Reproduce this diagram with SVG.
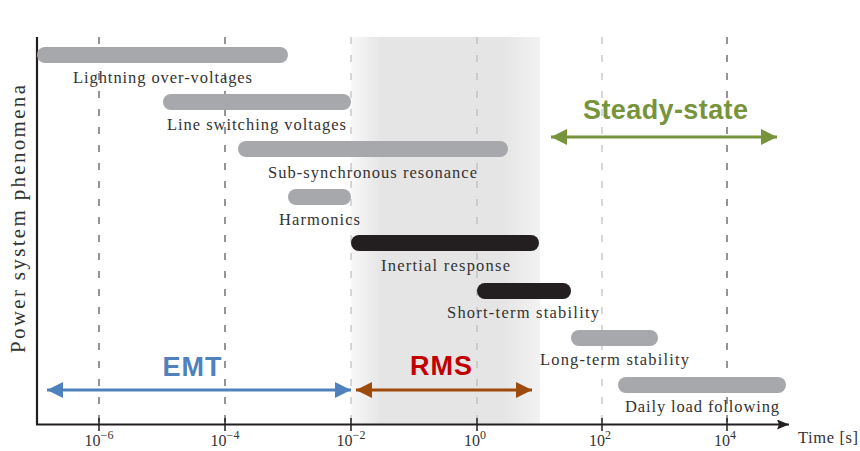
<svg xmlns="http://www.w3.org/2000/svg" width="860" height="451" viewBox="0 0 860 451">
<defs>
  <linearGradient id="shade" x1="351" y1="0" x2="540" y2="0" gradientUnits="userSpaceOnUse">
    <stop offset="0" stop-color="#f8f8f8"/>
    <stop offset="0.16" stop-color="#e5e5e5"/>
    <stop offset="0.8" stop-color="#e5e5e5"/>
    <stop offset="1" stop-color="#f2f2f2"/>
  </linearGradient>
  <marker id="hBlue" viewBox="0 0 16 16" refX="16" refY="8" markerWidth="16" markerHeight="16" markerUnits="userSpaceOnUse" orient="auto-start-reverse">
    <path d="M0,0 L16,8 L0,16 z" fill="#4f81bd"/>
  </marker>
  <marker id="hBrown" viewBox="0 0 16 16" refX="16" refY="8" markerWidth="16" markerHeight="16" markerUnits="userSpaceOnUse" orient="auto-start-reverse">
    <path d="M0,0 L16,8 L0,16 z" fill="#9e4a0c"/>
  </marker>
  <marker id="hGreen" viewBox="0 0 16 16" refX="16" refY="8" markerWidth="16" markerHeight="16" markerUnits="userSpaceOnUse" orient="auto-start-reverse">
    <path d="M0,0 L16,8 L0,16 z" fill="#77933c"/>
  </marker>
  <marker id="hAxis" viewBox="0 0 12 10" refX="12" refY="5" markerWidth="12" markerHeight="10" markerUnits="userSpaceOnUse" orient="auto">
    <path d="M0,0 L12,5 L0,10 L2,5 z" fill="#231f20"/>
  </marker>
</defs>
<style>
  .barG { fill: #a7a8ab; }
  .barK { fill: #231f20; }
  .lbl { font-family: "Liberation Serif", "DejaVu Serif", serif; font-size: 16.5px; fill: #333333; text-anchor: middle; }
  .tick { font-family: "Liberation Serif", "DejaVu Serif", serif; font-size: 16px; fill: #333333; text-anchor: middle; }
  .sup { font-size: 12px; }
  .gridK { stroke: #2a2a2a; stroke-width: 1; stroke-dasharray: 7 11; fill: none; }
  .gridG { stroke: #b0b0b0; stroke-width: 1; stroke-dasharray: 7 11; fill: none; }
  .axis { stroke: #231f20; stroke-width: 2.2; fill: none; }
  .tk { stroke: #231f20; stroke-width: 1.5; }
  .big { font-family: "Liberation Sans", Arial, sans-serif; font-weight: bold; text-anchor: middle; }
</style>

<rect x="351" y="37" width="189" height="388" fill="url(#shade)"/>

<g id="grid">
  <line class="gridK" x1="99" y1="37" x2="99" y2="425"/>
  <line class="gridK" x1="225" y1="37" x2="225" y2="425"/>
  <line class="gridG" x1="351" y1="37" x2="351" y2="425"/>
  <line class="gridG" x1="477" y1="37" x2="477" y2="425"/>
  <line class="gridG" x1="602" y1="37" x2="602" y2="425"/>
  <line class="gridK" x1="727" y1="37" x2="727" y2="425"/>
</g>

<g id="axes">
  <line class="axis" x1="37" y1="37" x2="37" y2="425"/>
  <line class="axis" x1="36" y1="424.5" x2="789" y2="424.5" marker-end="url(#hAxis)"/>
  <line class="tk" x1="99" y1="418" x2="99" y2="431"/>
  <line class="tk" x1="225" y1="418" x2="225" y2="431"/>
  <line class="tk" x1="351" y1="418" x2="351" y2="431"/>
  <line class="tk" x1="477" y1="418" x2="477" y2="431"/>
  <line class="tk" x1="602" y1="418" x2="602" y2="431"/>
  <line class="tk" x1="727" y1="418" x2="727" y2="431"/>
  <text class="tick" x="99" y="446">10<tspan class="sup" dy="-7">−6</tspan></text>
  <text class="tick" x="225" y="446">10<tspan class="sup" dy="-7">−4</tspan></text>
  <text class="tick" x="351" y="446">10<tspan class="sup" dy="-7">−2</tspan></text>
  <text class="tick" x="475" y="446">10<tspan class="sup" dy="-7">0</tspan></text>
  <text class="tick" x="600" y="446">10<tspan class="sup" dy="-7">2</tspan></text>
  <text class="tick" x="725" y="446">10<tspan class="sup" dy="-7">4</tspan></text>
  <text class="lbl" x="828" y="443" textLength="60">Time [s]</text>
  <text class="lbl" transform="translate(25,219) rotate(-90)" style="font-size:21px" textLength="268">Power system phenomena</text>
</g>

<g id="lightning">
  <rect class="barG" x="37" y="47" width="251" height="16" rx="8"/>
  <text class="lbl" x="162.5" y="83" textLength="179">Lightning over-voltages</text>
</g>
<g id="line-switching">
  <rect class="barG" x="163" y="94" width="188" height="16" rx="8"/>
  <text class="lbl" x="256.5" y="130" textLength="179">Line switching voltages</text>
</g>
<g id="sub-synchronous">
  <rect class="barG" x="238" y="141" width="270" height="16" rx="8"/>
  <text class="lbl" x="372.5" y="178" textLength="209">Sub-synchronous resonance</text>
</g>
<g id="harmonics">
  <rect class="barG" x="288" y="189" width="63" height="16" rx="8"/>
  <text class="lbl" x="319.5" y="225" textLength="81">Harmonics</text>
</g>
<g id="inertial">
  <rect class="barK" x="351" y="235" width="188" height="16" rx="8"/>
  <text class="lbl" x="445.5" y="271" textLength="129">Inertial response</text>
</g>
<g id="short-term">
  <rect class="barK" x="477" y="283" width="94" height="16" rx="8"/>
  <text class="lbl" x="523" y="318" textLength="152">Short-term stability</text>
</g>
<g id="long-term">
  <rect class="barG" x="571" y="330" width="87" height="16" rx="8"/>
  <text class="lbl" x="614.5" y="365" textLength="149">Long-term stability</text>
</g>
<g id="daily-load">
  <rect class="barG" x="618" y="377" width="168" height="16" rx="8"/>
  <text class="lbl" x="702" y="412" textLength="154">Daily load following</text>
</g>

<g id="connectors">
  <line x1="47" y1="390" x2="351" y2="390" stroke="#4f81bd" stroke-width="3" marker-start="url(#hBlue)" marker-end="url(#hBlue)"/>
  <line x1="356" y1="390" x2="532" y2="390" stroke="#9e4a0c" stroke-width="3" marker-start="url(#hBrown)" marker-end="url(#hBrown)"/>
  <line x1="551" y1="137" x2="777" y2="137" stroke="#77933c" stroke-width="3" marker-start="url(#hGreen)" marker-end="url(#hGreen)"/>
</g>

<g id="emt-label">
  <text class="big" x="192" y="376" font-size="27" fill="#4f81bd" textLength="59">EMT</text>
</g>
<g id="rms-label">
  <text class="big" x="441" y="375" font-size="27" fill="#c00000" textLength="62">RMS</text>
</g>
<g id="steady-label">
  <text class="big" x="665.5" y="119" font-size="27" fill="#77933c" textLength="165">Steady-state</text>
</g>
</svg>
